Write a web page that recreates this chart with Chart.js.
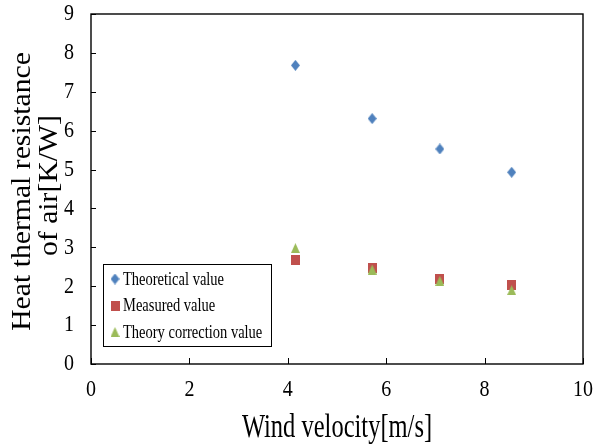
<!DOCTYPE html>
<html>
<head>
<meta charset="utf-8">
<script src="https://cdn.jsdelivr.net/npm/chart.js@4.4.1/dist/chart.umd.min.js"></script>
<style>
  html, body { margin: 0; padding: 0; background: #ffffff; }
  #wrap { width: 594px; height: 445px; }
</style>
</head>
<body>
<div id="wrap"><canvas id="c" width="594" height="445"></canvas></div>
<script>
// ---- data ----
const windVelocity      = [4.155, 5.715, 7.09, 8.55];
const theoreticalValue  = [7.68, 6.31, 5.53, 4.93];
const measuredValue     = [2.67, 2.47, 2.18, 2.03];
const correctionValue   = [2.98, 2.43, 2.14, 1.90];
const seriesNames = ['Theoretical value', 'Measured value', 'Theory correction value'];
const xTitle = 'Wind velocity[m/s]';
const yTitleLines = ['Heat thermal resistance', 'of air[K/W]'];
const xRange = [0, 10, 2];
const yRange = [0, 9, 1];

// ---- styling ----
const FONT = "'Liberation Serif', 'Times New Roman', serif";
const colors = ['#4F81BD', '#C0504D', '#9BBB59'];

function makeMarker(shape, color, w, h) {
  const c = document.createElement('canvas');
  c.width = w; c.height = h;
  const g = c.getContext('2d');
  g.fillStyle = color;
  g.beginPath();
  if (shape === 'diamond') {
    g.moveTo(w / 2, 0); g.lineTo(w, h / 2); g.lineTo(w / 2, h); g.lineTo(0, h / 2);
  } else if (shape === 'square') {
    g.rect(0, 0, w, h);
  } else {
    g.moveTo(w / 2, 0); g.lineTo(w, h); g.lineTo(0, h);
  }
  g.closePath();
  g.fill();
  return c;
}
const markers = [
  makeMarker('diamond', colors[0], 9, 11),
  makeMarker('square', colors[1], 9, 10),
  makeMarker('triangle', colors[2], 9, 10)
];

function pts(ys) { return windVelocity.map((x, i) => ({ x: x, y: ys[i] })); }

function stretchedText(ctx, text, x, y, size, sx, sy, align, baseline, rot) {
  ctx.save();
  ctx.translate(x, y);
  if (rot) ctx.rotate(rot);
  ctx.scale(sx, sy);
  ctx.font = size + 'px ' + FONT;
  ctx.fillStyle = '#000';
  ctx.textAlign = align;
  ctx.textBaseline = baseline;
  ctx.fillText(text, 0, 0);
  ctx.restore();
}

const decorPlugin = {
  id: 'decor',
  afterDraw(chart) {
    const ctx = chart.ctx;
    const a = chart.chartArea;
    const xs = chart.scales.x, ys = chart.scales.y;
    ctx.save();
    // frame
    ctx.strokeStyle = '#000';
    ctx.lineWidth = 1.4;
    ctx.strokeRect(a.left, a.top, a.right - a.left, a.bottom - a.top);
    // inner tick marks
    ctx.lineWidth = 1;
    ctx.beginPath();
    xs.ticks.forEach(t => {
      const px = Math.round(xs.getPixelForValue(t.value)) + 0.5;
      ctx.moveTo(px, a.bottom); ctx.lineTo(px, a.bottom - 6);
    });
    ys.ticks.forEach(t => {
      const py = Math.round(ys.getPixelForValue(t.value)) + 0.5;
      ctx.moveTo(a.left, py); ctx.lineTo(a.left + 5, py);
    });
    ctx.stroke();
    // tick labels
    xs.ticks.forEach(t => {
      stretchedText(ctx, String(t.value), xs.getPixelForValue(t.value), a.bottom + 26, 20, 1, 1.2, 'center', 'middle');
    });
    ys.ticks.forEach(t => {
      stretchedText(ctx, String(t.value), a.left - 17, ys.getPixelForValue(t.value), 20, 1, 1.2, 'right', 'middle');
    });
    // axis titles
    stretchedText(ctx, xTitle, (a.left + a.right) / 2, 437, 24.5, 1, 1.35, 'center', 'alphabetic');
    stretchedText(ctx, yTitleLines[0], 30, 191.5, 27, 1.1, 1, 'center', 'alphabetic', -Math.PI / 2);
    stretchedText(ctx, yTitleLines[1], 57, 185.5, 27, 1.1, 1, 'center', 'alphabetic', -Math.PI / 2);
    // legend box
    ctx.fillStyle = '#fff';
    ctx.fillRect(103, 264, 168, 82);
    ctx.strokeStyle = '#000';
    ctx.lineWidth = 1;
    ctx.strokeRect(103.5, 264.5, 168, 82);
    const rowsY = [279, 305.5, 332];
    chart.data.datasets.forEach((ds, i) => {
      const m = ds.pointStyle;
      ctx.drawImage(m, 115 - m.width / 2, rowsY[i] - m.height / 2);
      stretchedText(ctx, ds.label, 123, rowsY[i] + 1, 14.5, 1, 1.25, 'left', 'middle');
    });
    ctx.restore();
  }
};

new Chart(document.getElementById('c'), {
  type: 'scatter',
  data: {
    datasets: [
      { label: seriesNames[0], data: pts(theoreticalValue), pointStyle: markers[0], backgroundColor: colors[0], borderColor: colors[0], order: 2 },
      { label: seriesNames[1], data: pts(measuredValue), pointStyle: markers[1], backgroundColor: colors[1], borderColor: colors[1], order: 1 },
      { label: seriesNames[2], data: pts(correctionValue), pointStyle: markers[2], backgroundColor: colors[2], borderColor: colors[2], order: 0 }
    ]
  },
  options: {
    responsive: false,
    animation: false,
    devicePixelRatio: 1,
    layout: { padding: { top: 14, right: 11, left: 0, bottom: 0 } },
    plugins: { legend: { display: false }, tooltip: { enabled: false }, title: { display: false } },
    scales: {
      x: {
        type: 'linear', min: xRange[0], max: xRange[1],
        ticks: { stepSize: xRange[2], display: false },
        grid: { display: false }, border: { display: false },
        afterFit(s) { s.height = 81; }
      },
      y: {
        type: 'linear', min: yRange[0], max: yRange[1],
        ticks: { stepSize: yRange[2], display: false },
        grid: { display: false }, border: { display: false },
        afterFit(s) { s.width = 91; }
      }
    }
  },
  plugins: [decorPlugin]
});
</script>
</body>
</html>
